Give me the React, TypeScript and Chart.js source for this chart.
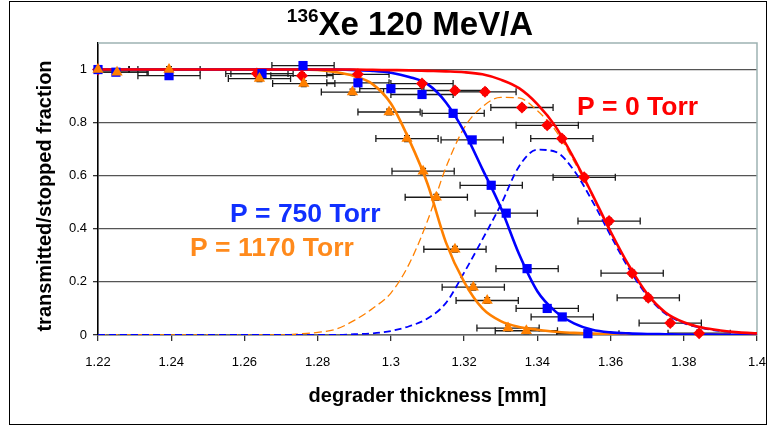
import { useEffect, useRef } from 'react';
import { Chart, registerables } from 'chart.js';

Chart.register(...registerables);

// Degrader thickness grid (mm) used for the fitted curves
const fitX = [
  1.22, 1.225, 1.23, 1.235, 1.24, 1.245, 1.25, 1.255, 1.26, 1.265, 1.27, 1.275,
  1.28, 1.285, 1.29, 1.295, 1.3, 1.305, 1.31, 1.315, 1.32, 1.325, 1.33, 1.335,
  1.34, 1.345, 1.35, 1.355, 1.36, 1.365, 1.37, 1.375, 1.38, 1.385, 1.39, 1.395, 1.4,
];

// Fitted transmitted fraction, P = 0 Torr
const fitP0 = [
  1, 1, 1, 1, 1, 1, 1, 1, 1, 1, 1, 1, 1, 1, 1,
  0.999, 0.998, 0.997, 0.995, 0.993, 0.99, 0.982, 0.962, 0.93, 0.87, 0.785,
  0.665, 0.53, 0.39, 0.262, 0.155, 0.085, 0.048, 0.028, 0.017, 0.01, 0.006,
];

// Fitted transmitted fraction, P = 750 Torr
const fitP750 = [
  1, 1, 1, 1, 1, 1, 1, 1, 1, 1, 1, 1, 1, 1,
  0.998, 0.995, 0.988, 0.972, 0.945, 0.877, 0.767, 0.625, 0.48, 0.305, 0.165,
  0.088, 0.044, 0.02, 0.01, 0.006, 0.004, 0.003, 0.002, 0.002, 0.001, 0.001, 0.001,
];

// Fitted transmitted fraction, P = 1170 Torr
const fitP1170 = [
  1, 1, 1, 1, 1, 1, 1, 1, 1, 1, 1, 1,
  0.998, 0.99, 0.975, 0.945, 0.872, 0.735, 0.57, 0.35, 0.2, 0.1, 0.052, 0.03,
  0.02, 0.012, 0.008, 0.005, 0.004, 0.003, 0.002, 0.002, 0.001, 0.001, 0.001, 0.001, 0.001,
];

// Fraction stopped in the gas (dashed), P = 750 Torr
const stopP750 = [
  0, 0, 0, 0, 0, 0, 0, 0, 0, 0, 0, 0, 0, 0,
  0.003, 0.006, 0.015, 0.033, 0.062, 0.12, 0.235, 0.36, 0.49, 0.635, 0.698,
  0.69, 0.62, 0.505, 0.375, 0.25, 0.148, 0.08, 0.045, 0.026, 0.015, 0.009, 0.005,
];

// Fraction stopped in the gas (dashed), P = 1170 Torr
const stopP1170 = [
  0, 0, 0, 0, 0, 0, 0, 0, 0, 0, 0,
  0.004, 0.01, 0.022, 0.055, 0.1, 0.158, 0.268, 0.43, 0.63, 0.78, 0.86, 0.895,
  0.893, 0.845, 0.77, 0.655, 0.525, 0.385, 0.258, 0.153, 0.083, 0.047, 0.027,
  0.016, 0.009, 0.005,
];

// Measured points, P = 0 Torr
const measP0X = [
  1.22, 1.2634, 1.2757, 1.291, 1.3085, 1.3175, 1.3257, 1.3358, 1.3427, 1.3467,
  1.3528, 1.3596, 1.3659, 1.3703, 1.3763, 1.3842,
];
const measP0Y = [
  1.0, 0.985, 0.977, 0.982, 0.947, 0.921, 0.916, 0.857, 0.79, 0.74,
  0.594, 0.429, 0.233, 0.14, 0.045, 0.007,
];

// Measured points, P = 750 Torr
const measP750X = [
  1.22, 1.2249, 1.2394, 1.2648, 1.276, 1.291, 1.3, 1.3085, 1.317, 1.3222,
  1.3274, 1.3315, 1.3372, 1.3427, 1.3468, 1.3538,
];
const measP750Y = [
  1.0, 0.99, 0.977, 0.985, 1.015, 0.95, 0.928, 0.906, 0.835, 0.735,
  0.564, 0.459, 0.25, 0.1, 0.068, 0.005,
];

// Measured points, P = 1170 Torr
const measP1170X = [
  1.22, 1.2252, 1.2394, 1.2641, 1.2762, 1.2895, 1.2995, 1.3044, 1.3088, 1.3124,
  1.3175, 1.3225, 1.3263, 1.332, 1.337,
];
const measP1170Y = [
  1.0, 0.99, 1.0, 0.966, 0.947, 0.915, 0.84, 0.74, 0.617, 0.519,
  0.323, 0.18, 0.13, 0.026, 0.016,
];

// Measurement uncertainties
const xError = 0.0085;
const yError = 0.011;

// Axis ranges
const xMin = 1.22;
const xMax = 1.4;
const xStep = 0.02;
const yMin = 0;
const yMax = 1.1;
const yStep = 0.2;

const RED = '#ff0000';
const BLUE = '#0000ff';
const ORANGE = '#ff8000';
const BLUE_TEXT = '#1030ff';
const ORANGE_TEXT = '#ff8a1c';

const FONT = '"Liberation Sans", Arial, sans-serif';

const pairs = (xs: number[], ys: number[]) => xs.map((x, i) => ({ x, y: ys[i] }));

const measured = [
  { xs: measP0X, ys: measP0Y },
  { xs: measP750X, ys: measP750Y },
  { xs: measP1170X, ys: measP1170Y },
];

const errorBarPlugin = {
  id: 'errorBars',
  beforeDatasetsDraw(chart: any) {
    const { ctx, chartArea, scales } = chart;
    const xs = scales.x;
    const ys = scales.y;
    ctx.save();
    ctx.beginPath();
    ctx.rect(chartArea.left, chartArea.top, chartArea.right - chartArea.left, chartArea.bottom - chartArea.top);
    ctx.clip();
    ctx.strokeStyle = '#1a1a1a';
    ctx.lineWidth = 1.3;
    const cap = 3.5;
    measured.forEach((s) => {
      s.xs.forEach((xv, i) => {
        const yv = s.ys[i];
        const py = ys.getPixelForValue(yv);
        const px = xs.getPixelForValue(xv);
        const x0 = xs.getPixelForValue(xv - xError);
        const x1 = xs.getPixelForValue(xv + xError);
        const y0 = ys.getPixelForValue(yv - yError);
        const y1 = ys.getPixelForValue(yv + yError);
        ctx.beginPath();
        ctx.moveTo(x0, py);
        ctx.lineTo(x1, py);
        ctx.moveTo(x0, py - cap);
        ctx.lineTo(x0, py + cap);
        ctx.moveTo(x1, py - cap);
        ctx.lineTo(x1, py + cap);
        ctx.moveTo(px, y0);
        ctx.lineTo(px, y1);
        ctx.moveTo(px - 3, y0);
        ctx.lineTo(px + 3, y0);
        ctx.moveTo(px - 3, y1);
        ctx.lineTo(px + 3, y1);
        ctx.stroke();
      });
    });
    ctx.restore();
  },
};

const decorPlugin = {
  id: 'decor',
  beforeDatasetsDraw(chart: any) {
    const { ctx, chartArea } = chart;
    ctx.save();
    ctx.strokeStyle = '#9db2b2';
    ctx.lineWidth = 1.5;
    ctx.beginPath();
    ctx.moveTo(chartArea.left, chartArea.top);
    ctx.lineTo(chartArea.right, chartArea.top);
    ctx.lineTo(chartArea.right, chartArea.bottom);
    ctx.stroke();
    ctx.restore();
  },
  afterDraw(chart: any) {
    const { ctx, chartArea } = chart;
    ctx.save();
    // outer frame
    ctx.strokeStyle = '#000';
    ctx.lineWidth = 1;
    ctx.strokeRect(9.5, 1.5, 757, 423);

    // title with superscript mass number
    const sup = '136';
    const main = 'Xe 120 MeV/A';
    ctx.fillStyle = '#000';
    ctx.textBaseline = 'alphabetic';
    ctx.textAlign = 'left';
    ctx.font = `bold 19px ${FONT}`;
    const wSup = ctx.measureText(sup).width;
    ctx.font = `bold 33px ${FONT}`;
    const wMain = ctx.measureText(main).width;
    const startX = 410 - (wSup + wMain) / 2;
    ctx.font = `bold 19px ${FONT}`;
    ctx.fillText(sup, startX, 22);
    ctx.font = `bold 33px ${FONT}`;
    ctx.fillText(main, startX + wSup, 35);

    // axis titles
    ctx.font = `bold 20px ${FONT}`;
    ctx.textAlign = 'center';
    ctx.textBaseline = 'middle';
    ctx.fillText('degrader thickness [mm]', (chartArea.left + chartArea.right) / 2, 396);
    ctx.save();
    ctx.translate(45, (chartArea.top + chartArea.bottom) / 2 + 7);
    ctx.rotate(-Math.PI / 2);
    ctx.fillText('transmitted/stopped fraction', 0, 0);
    ctx.restore();

    // pressure labels
    ctx.font = `bold 26.5px ${FONT}`;
    ctx.textAlign = 'left';
    ctx.textBaseline = 'alphabetic';
    ctx.fillStyle = RED;
    ctx.fillText('P = 0 Torr', 577, 115);
    ctx.fillStyle = BLUE_TEXT;
    ctx.fillText('P = 750 Torr', 230, 222);
    ctx.fillStyle = ORANGE_TEXT;
    ctx.fillText('P = 1170 Torr', 190, 256);
    ctx.restore();
  },
};

const fmt = (v: number) => String(Number(Number(v).toFixed(2)));

export default function App() {
  const canvasRef = useRef<HTMLCanvasElement | null>(null);

  useEffect(() => {
    const canvas = canvasRef.current;
    if (!canvas) return;

    const curve = (data: number[], color: string, width: number, order: number, dash: number[] = []) => ({
      type: 'line' as const,
      data: pairs(fitX, data),
      borderColor: color,
      borderWidth: width,
      borderDash: dash,
      pointRadius: 0,
      fill: false,
      cubicInterpolationMode: 'monotone' as const,
      order,
    });

    const points = (xs: number[], ys: number[], color: string, style: string, radius: number, order: number) => ({
      type: 'scatter' as const,
      data: pairs(xs, ys),
      showLine: false,
      pointStyle: style,
      pointRadius: radius,
      pointBackgroundColor: color,
      pointBorderColor: color,
      pointBorderWidth: 0,
      clip: false as const,
      order,
    });

    const chart = new Chart(canvas, {
      type: 'line',
      data: {
        datasets: [
          points(measP1170X, measP1170Y, ORANGE, 'triangle', 6.5, 0),
          points(measP750X, measP750Y, BLUE, 'rect', 6.5, 1),
          points(measP0X, measP0Y, RED, 'rectRot', 6, 2),
          curve(fitP0, RED, 2.6, 3),
          curve(fitP750, BLUE, 2.6, 4),
          curve(fitP1170, ORANGE, 2.6, 5),
          curve(stopP750, BLUE, 1.8, 6, [7, 4]),
          curve(stopP1170, ORANGE, 1.3, 7, [8, 4]),
        ] as any,
      },
      options: {
        animation: false,
        responsive: false,
        maintainAspectRatio: false,
        events: [],
        layout: { padding: { left: 0, top: 43, right: 11, bottom: 0 } },
        plugins: {
          legend: { display: false },
          tooltip: { enabled: false },
          title: { display: false },
        },
        scales: {
          x: {
            type: 'linear',
            min: xMin,
            max: xMax,
            afterFit: (s: any) => {
              s.height = 92;
              s.paddingLeft = 0;
              s.paddingRight = 0;
            },
            ticks: {
              stepSize: xStep,
              includeBounds: false,
              autoSkip: false,
              maxRotation: 0,
              padding: 14,
              color: '#000',
              font: { family: FONT, size: 13 },
              callback: (v: any) => fmt(v),
            },
            grid: {
              drawOnChartArea: false,
              drawTicks: true,
              tickLength: 6,
              tickColor: '#333',
              lineWidth: 1.3,
            },
            border: { color: '#666', width: 1.6 },
          },
          y: {
            type: 'linear',
            min: yMin,
            max: yMax,
            afterFit: (s: any) => {
              s.width = 98;
              s.paddingTop = 0;
              s.paddingBottom = 0;
            },
            ticks: {
              stepSize: yStep,
              includeBounds: false,
              padding: 6,
              color: '#000',
              font: { family: FONT, size: 13 },
              callback: (v: any) => fmt(v),
            },
            grid: {
              color: '#555',
              lineWidth: 1.3,
              drawTicks: true,
              tickLength: 5,
              tickColor: '#333',
            },
            border: { color: '#000', width: 1.6 },
          },
        },
      } as any,
      plugins: [decorPlugin, errorBarPlugin],
    });

    return () => chart.destroy();
  }, []);

  return (
    <div style={{ position: 'absolute', left: 0, top: 0, width: 768, height: 427, background: '#fff' }}>
      <canvas ref={canvasRef} width={768} height={427} style={{ width: 768, height: 427, display: 'block' }} />
    </div>
  );
}
